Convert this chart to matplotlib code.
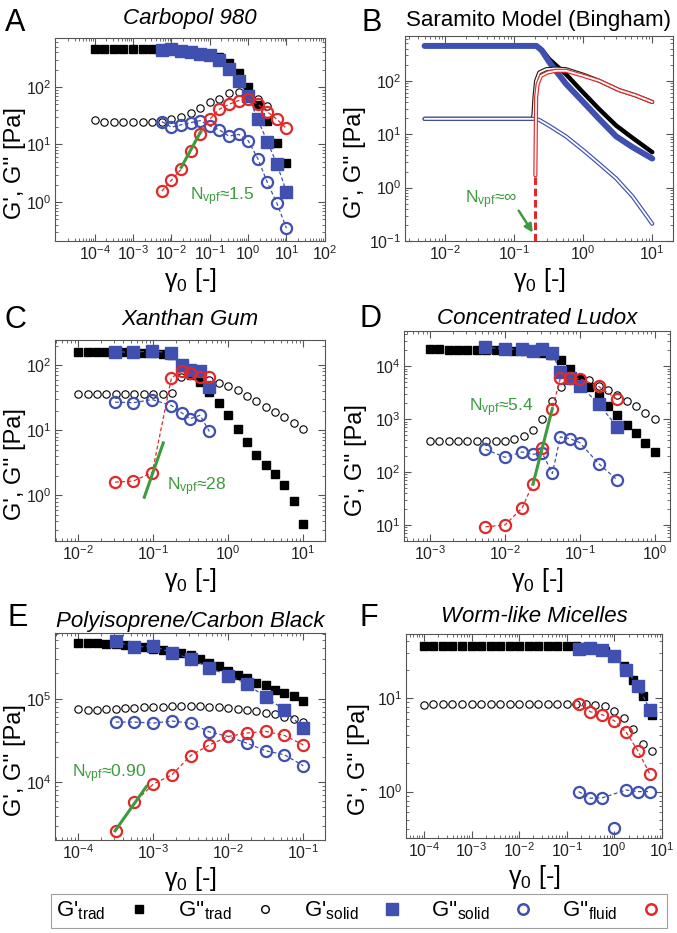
import numpy as np
import matplotlib
matplotlib.use('Agg')
import matplotlib.pyplot as plt
from matplotlib.lines import Line2D
from matplotlib.ticker import LogLocator, NullFormatter

plt.rcParams['font.family'] = ['Liberation Sans', 'DejaVu Sans']
plt.rcParams['mathtext.fontset'] = 'custom'
plt.rcParams['mathtext.rm'] = 'Liberation Sans'
plt.rcParams['mathtext.it'] = 'Liberation Sans:italic'
plt.rcParams['mathtext.bf'] = 'Liberation Sans:bold'
plt.rcParams['axes.edgecolor'] = '#555555'
plt.rcParams['xtick.color'] = '#555555'
plt.rcParams['ytick.color'] = '#555555'
plt.rcParams['xtick.labelcolor'] = '#222222'
plt.rcParams['ytick.labelcolor'] = '#222222'

BLUE = '#3f50b0'
RED = '#e02a2a'
GREEN = '#3e9a3e'

# ---- A: Carbopol 980 ----
a_x_trad = [1e-4, 1.78e-4, 3.16e-4, 5.62e-4, 1e-3, 1.78e-3, 3.16e-3, 5.62e-3, 1e-2, 1.78e-2,
            3.16e-2, 5.62e-2, 0.1, 0.178, 0.316, 0.562, 1.0, 1.78, 3.16, 5.62, 10.0]
a_gp_trad = [465, 465, 465, 465, 465, 465, 465, 460, 455, 440, 420, 395, 370, 330, 259, 173,
             100, 48, 26, 10.8, 4.8]
a_gpp_trad = [27, 24.5, 24.5, 24.5, 24.5, 24.5, 24.5, 25, 27.5, 29.6, 35, 42.5, 55, 63, 78, 83,
              80, 63, 47]
a_x_sf = [5.62e-3, 1e-2, 1.78e-2, 3.16e-2, 5.62e-2, 0.1, 0.178, 0.316, 0.562, 1.0, 1.78, 3.16,
          5.62, 10.0]
a_gp_solid = [440, 455, 430, 400, 375, 360, 295, 204, 128, 70, 27.5, 11.2, 4.6, 1.5]
a_gpp_solid = [25, 20, 22, 24, 26, 21, 18, 14, 15, 11.7, 5.7, 2.2, 0.95, 0.35]
a_gpp_fluid = [1.55, 2.4, 3.7, 7.7, 15, 27.5, 41, 50, 58, 63, 50, 37, 27.5, 19]
a_fit_x = [0.018, 0.058]
a_fit_y = [4.0, 16.7]

# ---- B: Saramito model (Bingham) ----
b_x_gp = [0.005, 0.21, 0.25, 0.32, 0.56, 1.0, 1.7, 3.0, 5.2, 10.0]
b_gp_solid = [450, 450, 370, 225, 88, 40, 19.3, 9.1, 5.7, 3.5]
b_gp_trad = [450, 450, 385, 255, 133, 60, 29.5, 14.5, 8.5, 4.6]
b_x_gpp_solid = [0.005, 0.2, 0.23, 0.32, 0.56, 1.0, 1.7, 3.0, 5.2, 10.0]
b_gpp_solid = [19.4, 19.4, 18.5, 14.4, 9.1, 5.0, 2.8, 1.48, 0.68, 0.21]
b_x_gpp_fluid = [0.202, 0.207, 0.218, 0.244, 0.305, 0.40, 0.56, 1.0, 1.7, 3.3, 5.8, 10.0]
b_gpp_fluid = [1.7, 49, 87, 124, 143, 154, 154, 124, 100, 67, 53, 40]
b_x_gpp_trad = [0.005, 0.185, 0.19, 0.196, 0.207, 0.23, 0.29, 0.40, 0.56, 1.0, 1.7, 3.3, 5.8, 10.0]
b_gpp_trad = [19.4, 19.4, 24, 49, 100, 143, 165, 170, 165, 130, 100, 67, 53, 40]
b_yield_x = [0.202, 0.202]
b_yield_y = [0.1, 1.6]

# ---- C: Xanthan gum ----
c_x_trad = [0.01, 0.0133, 0.0178, 0.0237, 0.0316, 0.0422, 0.0562, 0.075, 0.1, 0.133, 0.178,
            0.237, 0.316, 0.422, 0.562, 0.75, 1.0, 1.33, 1.78, 2.37, 3.16, 4.22, 5.62, 7.5, 10.0]
c_gp_trad = [157, 158, 160, 160, 158, 158, 157, 155, 153, 150, 145, 95, 70, 55, 39, 26, 17,
             10.6, 6.6, 4.2, 2.9, 2.1, 1.45, 0.81, 0.36]
c_gpp_trad = [35.5, 35.5, 35.5, 35.5, 35.5, 35.5, 35.5, 35.5, 35.5, 35.5, 38, 65, 70, 65, 60,
              54, 48, 41, 34, 28, 23, 19, 16, 13, 10.3]
c_x_sf = [0.031, 0.054, 0.097, 0.175, 0.24, 0.31, 0.42, 0.56]
c_gp_solid = [160, 158, 165, 155, 100, 85, 80, 46]
c_gpp_solid = [27, 26.5, 29.6, 24, 18.5, 15, 17, 9.6]
c_gpp_fluid = [1.6, 1.66, 2.25, 64, 81, 76, 66, 66]
c_fit_x = [0.076, 0.136]
c_fit_y = [0.94, 6.4]

# ---- D: Concentrated Ludox ----
d_x_trad = [1e-3, 1.33e-3, 1.78e-3, 2.37e-3, 3.16e-3, 4.22e-3, 5.62e-3, 7.5e-3, 0.01, 0.0133,
            0.0178, 0.0237, 0.0316, 0.0422, 0.0562, 0.075, 0.1, 0.133, 0.178, 0.237, 0.316,
            0.422, 0.562, 0.75, 1.0]
d_gp_trad = [20600, 20600, 20500, 20500, 20400, 20300, 20200, 20000, 19800, 19600, 19400,
             19000, 18000, 16500, 12800, 8900, 5800, 4000, 2700, 1770, 1180, 790, 550, 360, 240]
d_gpp_trad = [385, 380, 380, 380, 380, 380, 380, 380, 390, 430, 480, 620, 1020, 2200, 4000,
              5500, 5600, 5400, 4300, 3500, 2800, 2200, 1740, 1330, 1020]
d_x_sf = [0.0055, 0.01, 0.017, 0.0235, 0.0315, 0.043, 0.055, 0.073, 0.1, 0.178, 0.316]
d_gp_solid = [22700, 21200, 20600, 19700, 20600, 17800, 7700, 6000, 4300, 1960, 710]
d_gpp_solid = [270, 190, 240, 215, 230, 94, 460, 430, 360, 145, 71]
d_gpp_fluid = [9.3, 10, 21, 59, 280, 1580, 5900, 5900, 5800, 4140, 2360]
d_fit_x = [0.0237, 0.043]
d_fit_y = [59, 1580]

# ---- E: Polyisoprene / carbon black ----
e_x_trad = [1e-4, 1.33e-4, 1.78e-4, 2.37e-4, 3.16e-4, 4.22e-4, 5.62e-4, 7.5e-4, 1e-3, 1.33e-3,
            1.78e-3, 2.37e-3, 3.16e-3, 4.22e-3, 5.62e-3, 7.5e-3, 0.01, 0.0133, 0.0178, 0.0237,
            0.0316, 0.0422, 0.0562, 0.075, 0.1]
e_gp_trad = [466e3, 462e3, 458e3, 453e3, 445e3, 435e3, 425e3, 413e3, 398e3, 382e3, 365e3,
             350e3, 335e3, 300e3, 270e3, 244e3, 213e3, 194e3, 177e3, 156e3, 145e3, 128e3,
             117e3, 107e3, 95e3]
e_gpp_trad = [76e3, 74e3, 74e3, 75e3, 76e3, 77e3, 78e3, 79e3, 80e3, 80e3, 81e3, 81e3, 81e3,
              81e3, 80e3, 79e3, 78e3, 76e3, 74e3, 71e3, 68e3, 65e3, 61e3, 57e3, 53e3]
e_x_sf = [3.16e-4, 5.62e-4, 1e-3, 1.78e-3, 3.16e-3, 5.62e-3, 1e-2, 1.78e-2, 3.16e-2, 5.62e-2, 0.1]
e_gp_solid = [487e3, 413e3, 427e3, 353e3, 300e3, 234e3, 189e3, 150e3, 104e3, 73.5e3, 44.5e3]
e_gpp_solid = [52.5e3, 52.5e3, 51e3, 54e3, 51e3, 40e3, 35.3e3, 29.3e3, 23.8e3, 21.3e3, 15.8e3]
e_gpp_fluid = [2630, 5750, 9500, 12300, 20900, 28000, 35300, 38800, 40600, 36300, 28000]
e_fit_x = [3.1e-4, 8.1e-4]
e_fit_y = [2630, 8900]

# ---- F: Worm-like micelles ----
f_x_trad = [1e-4, 1.58e-4, 2.51e-4, 3.98e-4, 6.31e-4, 1e-3, 1.58e-3, 2.51e-3, 3.98e-3, 6.31e-3,
            0.01, 0.0158, 0.0251, 0.0398, 0.0631, 0.1, 0.158, 0.251, 0.398, 0.631, 1.0, 1.58,
            2.51, 3.98, 6.31]
f_gp_trad = [35.6, 35.6, 35.6, 35.6, 35.6, 35.6, 35.6, 35.6, 35.6, 35.6, 35.6, 35.6, 35.6,
             35.6, 35.6, 35.6, 35.6, 35, 33.5, 31.5, 28, 22, 15.4, 10.4, 6.6]
f_gpp_trad = [8.3, 8.7, 8.7, 8.7, 8.7, 8.7, 8.7, 8.7, 8.7, 8.7, 8.7, 8.7, 8.7, 8.7, 8.7, 8.7,
              8.6, 8.5, 8.3, 8.1, 7.3, 6.1, 4.6, 3.2, 2.7]
f_x_sf = [0.178, 0.316, 0.562, 1.0, 1.78, 3.16, 5.62]
f_gp_solid = [33, 34.3, 32.4, 27.9, 20, 13.3, 7.5]
f_gpp_solid = [1.0, 0.85, 0.86, 0.41, 1.04, 1.0, 1.0]
f_gpp_fluid = [8.6, 7.1, 6.6, 5.7, 4.3, 2.7, 1.53]

W, H = 677, 933
fig = plt.figure(figsize=(W / 100, H / 100), dpi=100)


def add_ax(l, t, r, b):
    return fig.add_axes([l / W, 1 - b / H, (r - l) / W, (b - t) / H])


def style(ax, xlim, ylim, xticks, yticks, title, pad, label_x, italic=True):
    ax.set_xscale('log')
    ax.set_yscale('log')
    ax.set_xlim(xlim)
    ax.set_ylim(ylim)
    ax.set_xticks(xticks)
    ax.set_yticks(yticks)
    for axis in (ax.xaxis, ax.yaxis):
        axis.set_minor_locator(LogLocator(base=10, subs=np.arange(2, 10), numticks=100))
        axis.set_minor_formatter(NullFormatter())
    ax.tick_params(which='both', direction='in', top=True, right=True, labelsize=11.5)
    ax.tick_params(which='major', length=5, width=0.8, pad=2.5)
    ax.tick_params(which='minor', length=2.5, width=0.6)
    ax.set_xlabel('γ$_0$ [-]', fontsize=18, labelpad=2)
    ax.set_ylabel("G', G'' [Pa]", fontsize=17)
    ax.yaxis.set_label_coords(label_x, 0.385)
    ax.set_title(title, fontsize=16, pad=pad, fontstyle='italic' if italic else 'normal')


def plot_trad(ax, x, gp, gpp):
    ax.plot(x[:len(gp)], gp, ls='none', marker='s', ms=5.5, color='black', zorder=3)
    ax.plot(x[:len(gpp)], gpp, ls='none', marker='o', ms=5.3, mfc='none', mec='black',
            mew=0.8, zorder=3)


def plot_sf(ax, x, gps, gpps, gppf, solid_line_x=None, solid_line_y=None):
    ax.plot(x, gps, ls=(0, (3, 2)), lw=0.9, color=BLUE, marker='s', ms=8.5, zorder=4)
    if solid_line_x is None:
        ax.plot(x, gpps, ls=(0, (3, 2)), lw=0.9, color=BLUE, marker='o', ms=8, mfc='none',
                mew=1.6, zorder=5)
    else:
        ax.plot(solid_line_x, solid_line_y, ls=(0, (3, 2)), lw=0.9, color=BLUE, zorder=5)
        ax.plot(x, gpps, ls='none', color=BLUE, marker='o', ms=8, mfc='none', mew=1.6, zorder=5)
    ax.plot(x, gppf, ls=(0, (3, 2)), lw=0.9, color=RED, marker='o', ms=8, mfc='none',
            mew=1.6, zorder=6)


def hollow(ax, x, y, color, z):
    ax.plot(x, y, color=color, lw=3.0, solid_capstyle='round', solid_joinstyle='round', zorder=z)
    ax.plot(x, y, color='white', lw=1.3, solid_capstyle='round', solid_joinstyle='round',
            zorder=z + 0.1)


LEFT_LX = (26 - 55) / 270
GREEN_SIZE = 12.5

# Panel A
axA = add_ax(55, 38, 325, 241)
plot_trad(axA, a_x_trad, a_gp_trad, a_gpp_trad)
plot_sf(axA, a_x_sf, a_gp_solid, a_gpp_solid, a_gpp_fluid)
axA.plot(a_fit_x, a_fit_y, color=GREEN, lw=2.2, zorder=7)
axA.text(0.030, 1.08, 'N$_{\\mathrm{vpf}}$≈1.5', color=GREEN, fontsize=GREEN_SIZE)
style(axA, (9.2e-6, 101), (0.21, 710), [1e-4, 1e-3, 1e-2, 1e-1, 1, 10, 100], [1, 10, 100],
      'Carbopol 980', 10, LEFT_LX)

# Panel B
axB = add_ax(405, 36, 673, 241)
axB.plot(b_x_gp, b_gp_trad, color='black', lw=3.2, solid_capstyle='round', zorder=2)
axB.plot(b_x_gp, b_gp_solid, color=BLUE, lw=4.3, solid_capstyle='round', zorder=3)
hollow(axB, b_x_gpp_trad, b_gpp_trad, '#222222', 4)
hollow(axB, b_x_gpp_solid, b_gpp_solid, BLUE, 5)
hollow(axB, b_x_gpp_fluid, b_gpp_fluid, RED, 6)
axB.plot(b_yield_x, b_yield_y, color=RED, lw=2.2, ls=(0, (2.5, 1.2)), zorder=6)
axB.annotate('', xy=(0.195, 0.13), xytext=(0.11, 0.41),
             arrowprops=dict(arrowstyle='-|>', color=GREEN, lw=1.8, mutation_scale=12))
axB.text(0.019, 0.51, 'N$_{\\mathrm{vpf}}$≈∞', color=GREEN, fontsize=GREEN_SIZE)
style(axB, (0.0026, 20), (0.1, 690), [1e-2, 1e-1, 1, 10], [0.1, 1, 10, 100],
      'Saramito Model (Bingham)', 7, (366 - 405) / 268, italic=False)

# Panel C
axC = add_ax(55, 340, 325, 541)
plot_trad(axC, c_x_trad, c_gp_trad, c_gpp_trad)
plot_sf(axC, c_x_sf, c_gp_solid, c_gpp_solid, c_gpp_fluid)
axC.plot(c_fit_x, c_fit_y, color=GREEN, lw=2.2, zorder=7)
axC.text(0.152, 1.19, 'N$_{\\mathrm{vpf}}$≈28', color=GREEN, fontsize=GREEN_SIZE)
style(axC, (0.0049, 19.5), (0.2, 243), [1e-2, 1e-1, 1, 10], [1, 10, 100], 'Xanthan Gum', 11,
      LEFT_LX)

# Panel D
axD = add_ax(404, 331, 670, 541)
plot_trad(axD, d_x_trad, d_gp_trad, d_gpp_trad)
plot_sf(axD, d_x_sf, d_gp_solid, d_gpp_solid, d_gpp_fluid)
axD.plot(d_fit_x, d_fit_y, color=GREEN, lw=2.2, zorder=7)
axD.text(0.0033, 1400, 'N$_{\\mathrm{vpf}}$≈5.4', color=GREEN, fontsize=GREEN_SIZE)
style(axD, (4.5e-4, 1.6), (5, 46000), [1e-3, 1e-2, 1e-1, 1], [10, 100, 1000, 10000],
      'Concentrated Ludox', 5, (367 - 404) / 266)

# Panel E
axE = add_ax(55, 633, 325, 840)
plot_trad(axE, e_x_trad, e_gp_trad, e_gpp_trad)
plot_sf(axE, e_x_sf, e_gp_solid, e_gpp_solid, e_gpp_fluid)
axE.plot(e_fit_x, e_fit_y, color=GREEN, lw=2.2, zorder=7)
axE.text(8.2e-5, 11500, 'N$_{\\mathrm{vpf}}$≈0.90', color=GREEN, fontsize=GREEN_SIZE)
style(axE, (4.9e-5, 0.195), (2040, 610000), [1e-4, 1e-3, 1e-2, 1e-1], [1e4, 1e5],
      'Polyisoprene/Carbon Black', 4, LEFT_LX)

# Panel F
axF = add_ax(406, 634, 662, 838)
plot_trad(axF, f_x_trad, f_gp_trad, f_gpp_trad)
keep = [0, 1, 2, 4, 5, 6]
plot_sf(axF, f_x_sf, f_gp_solid, f_gpp_solid, f_gpp_fluid,
        [f_x_sf[i] for i in keep], [f_gpp_solid[i] for i in keep])
style(axF, (4.2e-5, 10.05), (0.32, 48), [1e-4, 1e-3, 1e-2, 1e-1, 1, 10], [1, 10],
      'Worm-like Micelles', 9, (370 - 406) / 256)

# panel letters
for letter, x, y in [('A', 5, 31), ('B', 362, 31), ('C', 5, 328), ('D', 359, 327),
                     ('E', 7, 626), ('F', 360, 626)]:
    fig.text(x / W, 1 - y / H, letter, fontsize=22, va='baseline', ha='left')

# legend
handles = [
    Line2D([], [], ls='none', marker='s', ms=6, color='black'),
    Line2D([], [], ls='none', marker='o', ms=5.5, mfc='none', mec='black', mew=1),
    Line2D([], [], ls='none', marker='s', ms=8, color=BLUE),
    Line2D([], [], ls='none', marker='o', ms=7.5, mfc='none', mec=BLUE, mew=1.8),
    Line2D([], [], ls='none', marker='o', ms=7.5, mfc='none', mec=RED, mew=1.8),
]
labels = ["G'$_{\\mathrm{trad}}$", "G''$_{\\mathrm{trad}}$", "G'$_{\\mathrm{solid}}$",
          "G''$_{\\mathrm{solid}}$", "G''$_{\\mathrm{fluid}}$"]
leg = fig.legend(handles, labels, loc='center', bbox_to_anchor=(359 / W, 1 - 911 / H), ncol=5,
                 markerfirst=False, frameon=True, fancybox=False, fontsize=16,
                 handlelength=1.0, handletextpad=1.0, columnspacing=1.25, borderpad=0.25)
leg.get_frame().set_edgecolor('#888888')
leg.get_frame().set_linewidth(0.8)

fig.savefig('out.png', dpi=100)
